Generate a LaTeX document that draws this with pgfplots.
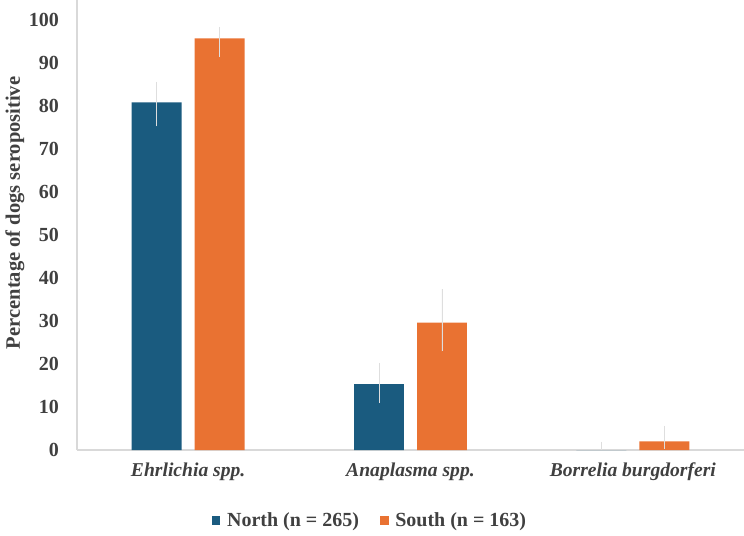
\documentclass[border=0pt]{standalone}
\usepackage{fontspec}
\setmainfont{Liberation Serif}
\usepackage{pgfplots}
\usepackage{pgfplotstable}
\pgfplotsset{compat=1.18}
\definecolor{northc}{RGB}{26,91,127}
\definecolor{southc}{RGB}{233,114,50}
\definecolor{axgray}{RGB}{217,217,217}
\definecolor{errgray}{RGB}{222,222,222}
\pgfplotstableread{
x y ep em
0 80.8 4.8 5.6
1 15.3 5.0 4.4
2 0.0 1.9 0.0
}\north
\pgfplotstableread{
x y ep em
0 95.7 2.7 4.4
1 29.6 7.8 6.7
2 2.0 3.6 1.7
}\south
\begin{document}
\begin{tikzpicture}
\useasboundingbox (-57.75pt,-64.5pt) rectangle (500.25pt,337.5pt);
\begin{axis}[
  at={(0,0)}, anchor=south west,
  scale only axis, width=500.25pt, height=337.5pt,
  xmin=-0.5, xmax=2.5, ymin=0, ymax=104.6,
  axis x line*=bottom, axis y line*=left,
  axis line style={axgray, line width=0.8pt, -},
  ytick={0,10,...,100},
  xtick={0,1,2},
  xticklabels={\textbf{\textit{Ehrlichia spp.}},\textbf{\textit{Anaplasma spp.}},\textbf{\textit{Borrelia burgdorferi}}},
  major tick length=0pt,
  tick style={draw=none},
  /pgf/number format/assume math mode=true,
  yticklabel style={font=\fontsize{15}{16}\selectfont\bfseries\color[RGB]{64,64,64}, xshift=-10pt},
  xticklabel style={font=\fontsize{14.7}{16}\selectfont\color[RGB]{64,64,64}, yshift=-6pt},
  ylabel={\textbf{Percentage of dogs seropositive}},
  ylabel style={font=\fontsize{15.4}{17}\selectfont\color[RGB]{64,64,64}, at={(axis description cs:-0.093,0.527)}, anchor=center},
  ybar, bar width=0.2247,
  error bars/error bar style={errgray, line width=0.6pt},
  error bars/error mark=none,
  legend style={at={(0.44,-0.157)}, anchor=center, draw=none, legend columns=2,
    font=\fontsize{15}{16}\selectfont\bfseries\color[RGB]{64,64,64},
    /tikz/every odd column/.append style={column sep=3pt},
    /tikz/every even column/.append style={column sep=14pt}},
  legend image code/.code={\fill[#1] (0pt,-3pt) rectangle (6.2pt,3.2pt);},
]
\addplot[fill=northc, draw=none, bar shift=-0.1416, error bars/.cd, y dir=both, y explicit]
  table[x=x, y=y, y error plus=ep, y error minus=em]{\north};
\addlegendentry{North (n = 265)}
\addplot[fill=southc, draw=none, bar shift=0.1416, error bars/.cd, y dir=both, y explicit]
  table[x=x, y=y, y error plus=ep, y error minus=em]{\south};
\addlegendentry{South (n = 163)}
\end{axis}
\end{tikzpicture}
\end{document}
